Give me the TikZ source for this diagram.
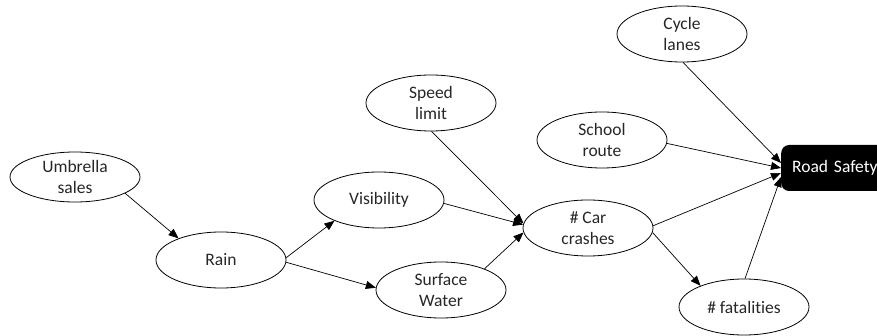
\documentclass[tikz,border=0pt]{standalone}
\usepackage{fontspec}
\setmainfont{Carlito}[Ligatures=NoCommon]
\usetikzlibrary{shapes.geometric,arrows.meta}
\begin{document}
\begin{tikzpicture}[x=1pt,y=-1pt,
 ell/.style={ellipse,draw,line width=0.8pt,minimum width=130pt,minimum height=56pt,inner sep=0pt,align=center,text=black!85,font=\fontsize{17.5}{21}\selectfont},
 rsbox/.style={rectangle,rounded corners=8pt,fill=black,text=white,minimum height=46pt,inner xsep=11pt,text width=92pt,font=\fontsize{17.5}{21}\selectfont},
 conn/.style={line width=0.7pt,-{Triangle[length=10pt,width=8pt]}}]
\useasboundingbox (0,0) rectangle (877,336);
\node[ell,minimum height=50pt] (us) at (75,177) {Umbrella\\sales};
\node[ell] (rain) at (221,260) {Rain};
\node[ell] (vis) at (379,200) {Visibility};
\node[ell] (sw) at (441,290) {Surface\\Water};
\node[ell] (sl) at (431,103) {Speed\\limit};
\node[ell] (cc) at (588,228) {\# Car\\crashes};
\node[ell] (sr) at (602,140) {School\\route};
\node[ell] (cl) at (682,34) {Cycle\\lanes};
\node[ell] (fat) at (744,307) {\# fatalities};
\node[rsbox,anchor=west] (rs) at (781,168) {\hbox{Road Safety}};
\draw[conn] (us.-18) -- (rain.153);
\draw[conn] (rain.2) -- (vis.205);
\draw[conn] (rain.-2) -- (sw.178);
\draw[conn] (sl.-89) -- (cc.176);
\draw[conn] (vis.-3) -- (cc.177);
\draw[conn] (sw.26) -- (cc.184);
\draw[conn] (cc.-4) -- (fat.154);
\draw[conn] (cc.2) -- ([yshift=-5pt]rs.west);
\draw[conn] (fat.88) -- ([yshift=-9pt]rs.west);
\draw[conn] (sr.-3) -- (rs.west);
\draw[conn] (cl.-88) -- ([yshift=5pt]rs.west);
\end{tikzpicture}
\end{document}
